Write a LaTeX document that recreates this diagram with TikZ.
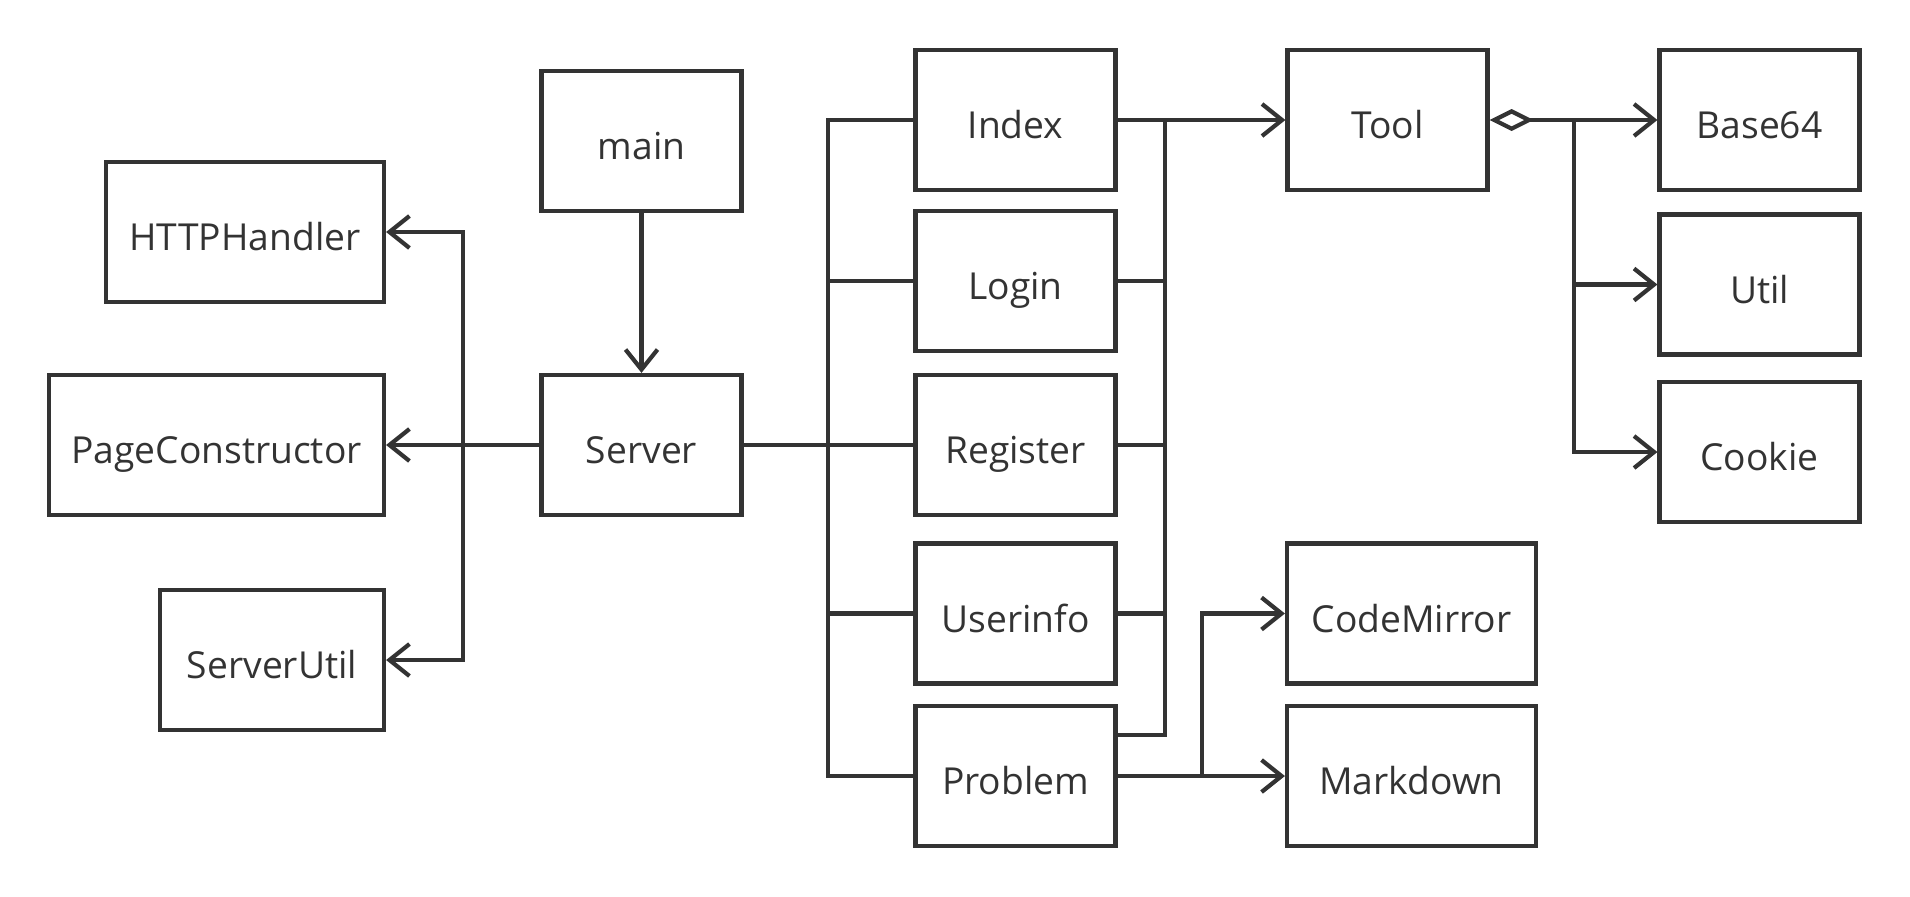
\documentclass[tikz,border=0pt]{standalone}
\usepackage{fontspec}
\setmainfont{Open Sans}
\usepackage{tikz}
\usetikzlibrary{arrows.meta}
\definecolor{ink}{HTML}{333333}
\tikzset{
	box/.style={draw=ink, line width=2.1pt, minimum width=100pt, minimum height=70pt, inner sep=0pt,
		text=ink, font=\fontsize{18.6}{22}\selectfont, text height=18.5pt, text depth=0pt},
	link/.style={draw=ink, line width=2.1pt},
	dep/.style={link, -{Straight Barb[length=10pt,width=16pt]}},
	agg/.style={link, {Diamond[open,length=22pt,width=11pt]}-{Straight Barb[length=10pt,width=16pt]}},
}

\begin{document}
\begin{tikzpicture}[x=0.5pt, y=-0.5pt]
		%%%%% START %%%%%
		\useasboundingbox (0, 0) rectangle (1910, 896);
		
		\node[box] (main) at (641.5, 141) {main};
		\node[box] (Server) at (641.5, 445) {Server};
		
		\node[box, minimum width=139pt] (HTTPHandler) at (245, 232) {HTTPHandler};
		\node[box, minimum width=167.5pt] (PageConstructor) at (216.5, 445) {PageConstructor};
		\node[box, minimum width=112pt] (ServerUtil) at (272, 660) {ServerUtil};
		
		\node[box] (Index) at (1015.5, 120) {Index};
		\node[box] (Login) at (1015.5, 281) {Login};
		\node[box] (Register) at (1015.5, 445) {Register};
		\node[box] (Userinfo) at (1015.5, 613.5) {Userinfo};
		\node[box] (Problem) at (1015.5, 776) {Problem};
		
		\node[box] (Tool) at (1387.5, 120) {Tool};
		\node[box, minimum width=124.5pt] (CodeMirror) at (1411.5, 613.5) {CodeMirror};
		\node[box, minimum width=124.5pt] (Markdown) at (1411.5, 776) {Markdown};
		
		\node[box] (Base64) at (1759.5, 120) {Base64};
		\node[box] (Util) at (1759.5, 284.5) {Util};
		\node[box] (Cookie) at (1759.5, 452) {Cookie};
		
		% bus points
		\coordinate (sbus) at (463, 445);
		\coordinate (lbus) at (828, 445);
		\coordinate (rbus) at (1165, 120);
		\coordinate (pbus) at (1202, 776);
		\coordinate (tbus) at (1574, 120);
		
		% server side
		\draw[dep] (main) -- (Server);
		\draw[dep] (Server) -- (PageConstructor);
		\draw[dep] (sbus) |- (HTTPHandler);
		\draw[dep] (sbus) |- (ServerUtil);
		
		% pages
		\draw[link] (Server) -- (Register);
		\draw[link] (Index.west) -| (lbus) |- (Problem.west);
		\draw[link] (Login.west -| lbus) -- (Login.west);
		\draw[link] (Userinfo.west -| lbus) -- (Userinfo.west);
		
		% tool users
		\draw[dep] (Index) -- (Tool);
		\draw[link] ([yshift=20.5pt]Problem.east) -| (rbus);
		\draw[link] (Login.east) -- (Login.east -| rbus);
		\draw[link] (Register.east) -- (Register.east -| rbus);
		\draw[link] (Userinfo.east) -- (Userinfo.east -| rbus);
		
		% editor
		\draw[dep] (Problem) -- (Markdown);
		\draw[dep] (pbus) |- (CodeMirror);
		
		% tool parts
		\draw[agg] (Tool) -- (Base64);
		\draw[dep] (tbus) |- (Util);
		\draw[dep] (tbus) |- (Cookie);
		
		%%%%% END %%%%%
	\end{tikzpicture}
\end{document}
